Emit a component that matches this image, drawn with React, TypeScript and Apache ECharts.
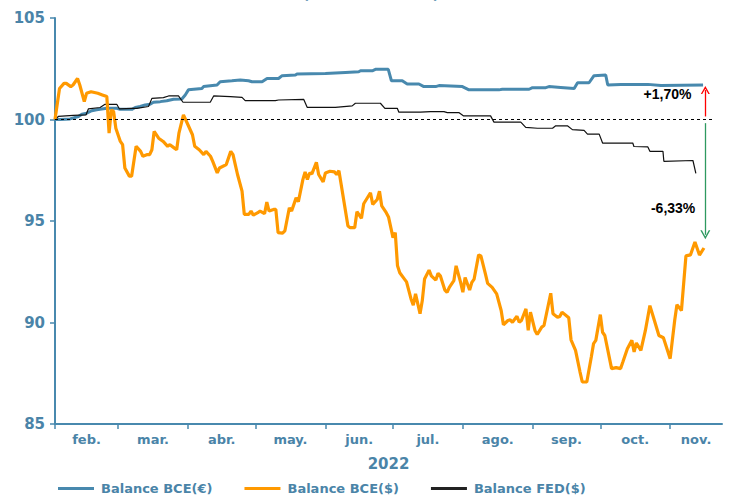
import React, { useEffect, useRef } from 'react';
import * as echarts from 'echarts';

// Month categories (axis starts on 1 Feb 2022); day offsets from 1 Feb 2022
const monthNames = ['feb.', 'mar.', 'abr.', 'may.', 'jun.', 'jul.', 'ago.', 'sep.', 'oct.', 'nov.'];
const monthStartDays = [0, 28, 59, 89, 120, 150, 181, 212, 242, 273];
const axisEndDay = 296;
const yMin = 85;
const yMax = 105;
const yStep = 5;
const axisTitle = '2022';

// Balance BCE(€)
const bceEurDays = [0, 2.2, 6.7, 10.4, 11.9, 14.1, 16.3, 18.5, 23.0, 27.4, 28.9, 34.1, 35.6, 37.8, 40.0, 42.2, 43.7, 46.7, 49.6, 52.6, 56.3, 57.8, 59.2, 65.2, 65.9, 71.9, 73.3, 78.5, 82.2, 85.9, 87.4, 91.9, 94.1, 99.2, 100.8, 106.7, 107.4, 120.0, 128.9, 134.8, 135.6, 140.8, 142.2, 147.9, 149.3, 154.1, 156.3, 161.5, 163.7, 168.9, 170.4, 180.8, 183.7, 197.0, 198.5, 210.4, 211.9, 217.8, 219.2, 224.4, 230.4, 231.9, 237.0, 239.2, 244.4, 245.3, 251.1, 263.1, 268.9, 287.6];
const bceEurVals = [100.0, 100.0, 100.03, 100.15, 100.26, 100.31, 100.43, 100.48, 100.55, 100.55, 100.5, 100.5, 100.59, 100.64, 100.72, 100.75, 100.85, 100.88, 100.92, 101.0, 101.01, 101.21, 101.46, 101.53, 101.62, 101.7, 101.86, 101.91, 101.95, 101.91, 101.86, 101.86, 102.02, 102.02, 102.16, 102.19, 102.24, 102.27, 102.32, 102.35, 102.4, 102.4, 102.47, 102.47, 101.91, 101.91, 101.75, 101.75, 101.62, 101.62, 101.67, 101.62, 101.46, 101.46, 101.49, 101.49, 101.57, 101.57, 101.62, 101.58, 101.53, 101.81, 101.81, 102.16, 102.19, 101.7, 101.73, 101.73, 101.67, 101.7];

// Balance FED($)
const fedDays = [0, 1.5, 8.1, 13.8, 14.8, 20.0, 22.2, 27.4, 28.6, 34.5, 36.3, 41.5, 43.0, 48.1, 50.4, 54.8, 56.8, 68.9, 70.4, 77.8, 83.0, 84.4, 97.8, 99.2, 110.4, 111.9, 124.4, 131.9, 133.3, 144.4, 146.4, 151.9, 152.6, 162.2, 166.7, 172.6, 174.1, 179.2, 181.2, 193.3, 194.8, 206.7, 208.9, 214.1, 220.8, 222.2, 227.4, 229.6, 234.8, 236.3, 241.5, 243.0, 256.4, 256.9, 263.1, 264.0, 269.8, 270.2, 283.1, 284.4];
const fedVals = [100.0, 100.15, 100.2, 100.23, 100.52, 100.59, 100.75, 100.75, 100.52, 100.55, 100.55, 100.64, 101.04, 101.08, 101.16, 101.16, 100.85, 100.85, 101.16, 101.13, 101.09, 100.93, 100.93, 100.96, 100.99, 100.6, 100.6, 100.67, 100.8, 100.8, 100.55, 100.55, 100.36, 100.36, 100.39, 100.39, 100.34, 100.34, 100.18, 100.18, 99.87, 99.87, 99.61, 99.57, 99.57, 99.69, 99.69, 99.5, 99.46, 99.28, 99.28, 98.84, 98.84, 98.67, 98.65, 98.43, 98.43, 97.94, 97.98, 97.35];

// Balance BCE($)
const bceUsdDays = [0, 2, 4, 5, 7, 8, 10, 11, 13, 14, 16, 19, 21, 23, 24, 25, 26, 27, 29, 30, 31, 33, 34, 36, 38, 39, 41, 42, 43, 44, 46, 48, 50, 51, 53, 54, 55, 57, 59, 61, 62, 64, 66, 67, 69, 70, 72, 73, 76, 78, 79, 80, 81, 83, 84, 86, 87, 88, 90, 91, 93, 94, 95, 97, 98, 99, 101, 102, 104, 105, 107, 108, 110, 111, 112, 113, 114, 116, 117, 119, 120, 122, 124, 125, 126, 127, 130, 131, 133, 134, 136, 137, 140, 141, 143, 144, 145, 147, 148, 150, 151, 152, 153, 155, 156, 158, 159, 160, 162, 163, 164, 166, 167, 169, 170, 171, 173, 174, 175, 177, 178, 180, 181, 182, 184, 185, 186, 188, 189, 191, 192, 194, 196, 198, 199, 201, 202, 203, 205, 206, 207, 209, 210, 211, 213, 214, 216, 217, 220, 221, 223, 224, 225, 228, 229, 231, 233, 234, 236, 238, 239, 240, 242, 243, 244, 247, 249, 251, 252, 254, 256, 257, 258, 260, 262, 264, 266, 268, 270, 273, 275, 276, 278, 280, 282, 284, 286, 288];
const bceUsdVals = [100.0, 101.53, 101.78, 101.78, 101.62, 101.70, 102.02, 101.70, 100.88, 101.29,
  101.37, 101.29, 101.21, 101.13, 99.33, 100.47, 100.39, 99.57, 98.92, 98.76,
  97.61, 97.21, 97.21, 98.68, 98.43, 98.19, 98.27, 98.27, 98.51, 99.41,
  99.08, 98.92, 98.68, 98.76, 98.59, 98.51, 99.33, 100.23, 99.74, 99.25,
  98.68, 98.51, 98.27, 98.43, 98.19, 97.94, 97.37, 97.61, 97.78, 98.43,
  98.27, 97.78, 97.29, 96.47, 95.33, 95.33, 95.49, 95.29, 95.41, 95.49,
  95.36, 95.93, 95.49, 95.57, 95.57, 94.43, 94.40, 94.51, 95.65, 95.49,
  96.14, 95.95, 97.04, 97.42, 97.04, 97.37, 97.32, 97.89, 97.29, 96.93,
  97.37, 97.45, 97.42, 97.29, 97.48, 96.80, 94.75, 94.67, 94.67, 95.46,
  95.13, 95.85, 96.39, 95.82, 96.06, 96.47, 95.74, 95.41, 95.20, 94.18,
  94.43, 92.79, 92.45, 92.15, 92.00, 91.16, 90.85, 91.41, 90.43, 91.08,
  92.14, 92.58, 92.30, 92.09, 92.42, 92.30, 91.60, 91.49, 91.73, 92.06,
  92.79, 91.98, 91.49, 92.22, 91.60, 91.98, 92.14, 93.33, 93.28, 92.39,
  91.93, 91.73, 91.41, 90.59, 89.89, 90.10, 90.13, 90.01, 90.31, 90.01,
  90.10, 90.67, 89.61, 90.51, 89.61, 89.41, 89.77, 89.85, 91.44, 90.43,
  90.26, 90.30, 90.51, 90.23, 89.15, 88.63, 87.56, 87.07, 87.07, 88.30,
  88.96, 89.12, 90.39, 89.52, 89.36, 87.73, 87.78, 87.73, 88.05, 88.71,
  89.12, 88.55, 88.99, 88.63, 89.61, 90.83, 90.10, 89.36, 89.25, 88.22,
  90.10, 90.88, 90.59, 93.28, 93.33, 93.97, 93.32, 93.67];

// Annotations
const baseValue = 100;
const eurChangeLabel = '+1,70%';
const usdChangeLabel = '-6,33%';
const titleText = '(índice base 100)';

const BLUE = '#4889AE';
const AXIS_BLUE = '#4A84A8';
const ORANGE = '#FF9900';
const FONT = "'Liberation Sans', Arial, sans-serif";
const WIDE = "'DejaVu Sans', Verdana, sans-serif";

const chevron = 'path://M0,10 L5,0 L10,10 L8.4,10 L5,3.2 L1.6,10 Z';

function pairs(days: number[], vals: number[]) {
  return days.map((d, i) => [d, vals[i]]);
}

export default function App() {
  const ref = useRef<HTMLDivElement>(null);
  useEffect(() => {
    if (!ref.current) return;
    const chart = echarts.init(ref.current, null, { renderer: 'svg' });
    const bounds = [...monthStartDays, axisEndDay];
    const labelDays = monthStartDays.map((d, i) => (d + bounds[i + 1]) / 2);
    const monthOf = (v: number) => {
      let idx = 0;
      monthStartDays.forEach((d, i) => { if (v >= d) idx = i; });
      return monthNames[idx];
    };
    const arrowX = 288.6;
    chart.setOption({
      animation: false,
      textStyle: { fontFamily: FONT },
      graphic: [
        {
          type: 'text',
          left: 'center',
          top: -13,
          style: { text: titleText, fill: AXIS_BLUE, font: `bold 14px ${WIDE}` },
        },
      ],
      grid: { left: 55, right: 20, top: 18, bottom: 71, containLabel: false },
      legend: {
        left: 53,
        top: 477,
        itemWidth: 36,
        itemHeight: 3,
        itemGap: 32,
        icon: 'rect',
        textStyle: { color: AXIS_BLUE, fontWeight: 'bold', fontSize: 13, fontFamily: WIDE, padding: [0, 0, 0, 2] },
        data: ['Balance BCE(€)', 'Balance BCE($)', 'Balance FED($)'],
      },
      xAxis: {
        type: 'value',
        min: 0,
        max: axisEndDay,
        name: axisTitle,
        nameLocation: 'middle',
        nameGap: 32,
        nameTextStyle: { color: AXIS_BLUE, fontWeight: 'bold', fontSize: 15, fontFamily: WIDE },
        axisLine: { show: true, onZero: false, lineStyle: { color: BLUE, width: 2 } },
        axisTick: { show: true, customValues: monthStartDays, length: 5, lineStyle: { color: BLUE, width: 1.5 } },
        axisLabel: {
          customValues: labelDays,
          formatter: (v: number) => monthOf(v),
          color: AXIS_BLUE,
          fontWeight: 'bold',
          fontSize: 13,
          fontFamily: WIDE,
          margin: 9,
        },
        splitLine: { show: false },
      },
      yAxis: {
        type: 'value',
        min: yMin,
        max: yMax,
        interval: yStep,
        axisLine: { show: true, onZero: false, lineStyle: { color: BLUE, width: 2 } },
        axisTick: { show: true, length: 5, lineStyle: { color: BLUE, width: 1.5 } },
        axisLabel: { color: AXIS_BLUE, fontWeight: 'bold', fontSize: 15, fontFamily: WIDE, margin: 10 },
        splitLine: { show: false },
      },
      series: [
        {
          name: 'Balance BCE(€)',
          type: 'line',
          data: pairs(bceEurDays, bceEurVals),
          showSymbol: false,
          color: BLUE,
          lineStyle: { width: 3, color: BLUE },
          z: 2,
        },
        {
          name: 'Balance FED($)',
          type: 'line',
          data: pairs(fedDays, fedVals),
          showSymbol: false,
          color: '#222222',
          lineStyle: { width: 1.2, color: '#111111' },
          z: 3,
          markLine: {
            silent: true,
            animation: false,
            label: { show: false },
            data: [
              [
                { coord: [0, baseValue], symbol: 'none', lineStyle: { type: [3, 3], color: '#000', width: 1 } },
                { coord: [292.9, baseValue], symbol: 'none' },
              ],
              [
                { coord: [arrowX, 100.15], symbol: 'none', lineStyle: { type: 'solid', color: '#FF0000', width: 1.3 } },
                { coord: [arrowX, 101.45], symbol: chevron, symbolSize: [9, 8] },
              ],
              [
                { coord: [arrowX, 99.82], symbol: 'none', lineStyle: { type: 'solid', color: '#2E9960', width: 1.3 } },
                { coord: [arrowX, 94.32], symbol: chevron, symbolSize: [10, 9] },
              ],
            ],
          },
          markPoint: {
            silent: true,
            animation: false,
            symbol: 'rect',
            symbolSize: 0,
            data: [
              {
                coord: [271.8, 101.24],
                label: { show: true, position: 'inside', formatter: eurChangeLabel, color: '#000', fontWeight: 'bold', fontSize: 14, fontFamily: FONT },
              },
              {
                coord: [274.3, 95.65],
                label: { show: true, position: 'inside', formatter: usdChangeLabel, color: '#000', fontWeight: 'bold', fontSize: 14, fontFamily: FONT },
              },
            ],
          },
        },
        {
          name: 'Balance BCE($)',
          type: 'line',
          data: pairs(bceUsdDays, bceUsdVals),
          showSymbol: false,
          color: ORANGE,
          lineStyle: { width: 3.2, color: ORANGE },
          z: 4,
        },
      ],
    });
    return () => chart.dispose();
  }, []);
  return <div ref={ref} style={{ position: 'absolute', left: 0, top: 0, width: 742, height: 495 }} />;
}
